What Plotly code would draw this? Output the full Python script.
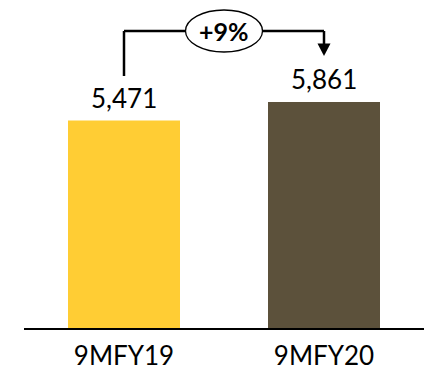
import plotly.graph_objects as go

# Nine-month revenue comparison
periods = ["9MFY19", "9MFY20"]
revenue = [5471, 5861]
value_labels = ["5,471", "5,861"]
growth_label = "+9%"
bar_colors = ["#FFCD34", "#5C513B"]

FONT = "Lato, Carlito, Calibri, sans-serif"

fig = go.Figure(
    go.Bar(
        x=periods,
        y=revenue,
        marker=dict(color=bar_colors, line=dict(width=0)),
        width=0.56,
        hoverinfo="skip",
    )
)

# value labels above each bar
for p, v, lab in zip(periods, revenue, value_labels):
    fig.add_annotation(
        x=p, y=v, text=lab, showarrow=False, yanchor="middle", yshift=23,
        font=dict(family=FONT, size=26, color="#000000"),
    )

top = max(revenue)
line_style = dict(color="#000000", width=2.5)

# growth bracket: up from the first label, across, down to the second
fig.add_shape(type="line", xref="x", yref="y", x0=0, x1=0,
              ysizemode="pixel", yanchor=top, y0=26, y1=71, line=line_style)
fig.add_shape(type="line", xref="x", yref="y", x0=0, x1=1,
              ysizemode="pixel", yanchor=top, y0=71, y1=71, line=line_style)
fig.add_shape(type="line", xref="x", yref="y", x0=1, x1=1,
              ysizemode="pixel", yanchor=top, y0=71, y1=57, line=line_style)
fig.add_shape(type="path", xref="x", yref="y",
              xsizemode="pixel", xanchor=1, ysizemode="pixel", yanchor=top,
              path="M -6.5,58.5 L 6.5,58.5 L 0,46 Z",
              fillcolor="#000000", line=dict(width=0))

# growth bubble
fig.add_shape(type="circle", xref="x", yref="y",
              xsizemode="pixel", xanchor=0.5, x0=-38.5, x1=38.5,
              ysizemode="pixel", yanchor=top, y0=50, y1=92,
              fillcolor="#FFFFFF", line=dict(color="#000000", width=1.3))
fig.add_annotation(x=0.5, y=top, yshift=71, text="<b>" + growth_label + "</b>",
                   showarrow=False, yanchor="middle",
                   font=dict(family=FONT, size=25, color="#000000"))

fig.update_layout(
    width=424, height=371,
    margin=dict(l=24, r=0, t=0, b=43),
    paper_bgcolor="#FFFFFF", plot_bgcolor="#FFFFFF",
    showlegend=False,
    bargap=0.44,
)
fig.update_xaxes(
    type="category", range=[-0.5, 1.5],
    showline=True, linecolor="#000000", linewidth=2,
    showgrid=False, ticks="", zeroline=False,
    ticklabelstandoff=4,
    tickfont=dict(family=FONT, size=26, color="#000000"),
)
fig.update_yaxes(
    range=[1120, 8000], visible=False, showgrid=False, zeroline=False,
)

fig.write_html("out.html")
